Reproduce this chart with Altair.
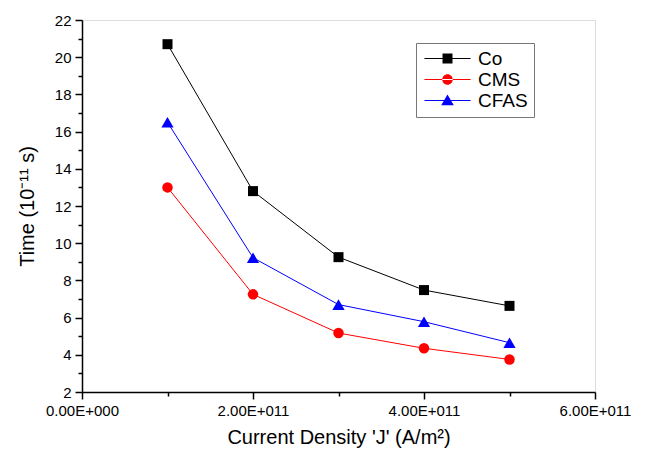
import altair as alt
import pandas as pd

current_density = [1e11, 2e11, 3e11, 4e11, 5e11]
co = [20.7, 12.8, 9.25, 7.48, 6.63]
cms = [13.0, 7.25, 5.17, 4.35, 3.75]
cfas = [16.5, 9.22, 6.7, 5.78, 4.65]
series_names = ["Co", "CMS", "CFAS"]
series_colors = ["#000000", "#ff0000", "#0000ff"]
series_shapes = ["square", "circle", "triangle-up"]
series_sizes = [100, 110, 150]

x_ticks = [0, 1e11, 2e11, 3e11, 4e11, 5e11, 6e11]
y_ticks = list(range(2, 23))

# legend glyphs: a short line with the marker in the middle
LINE = "M-4.4,-0.1H4.4V0.1H-4.4Z "
legend_shapes = [
    LINE + "M-0.95,-0.95H0.95V0.95H-0.95Z",
    LINE + "M-1,0A1,1 0 1,0 1,0A1,1 0 1,0 -1,0Z",
    LINE + "M0,-1.15L1.2,0.9H-1.2Z",
]

rows = []
for name, vals in zip(series_names, [co, cms, cfas]):
    for xv, yv in zip(current_density, vals):
        rows.append({"J": xv, "Time": yv, "Series": name})
df = pd.DataFrame(rows)

FONT = "Liberation Sans"

x_enc = alt.X(
    "J:Q",
    scale=alt.Scale(domain=[0, 6e11], nice=False, zero=False),
    axis=alt.Axis(
        values=x_ticks,
        title="Current Density 'J' (A/m²)",
        labelExpr="datum.value % 2e11 != 0 ? '' : (datum.value == 0 ? '0.00E+000' : format(datum.value/1e11, '.2f') + 'E+011')",
        tickSize={"condition": {"test": "datum.value % 2e11 != 0", "value": 4}, "value": 7},
        grid=False,
        labelFont=FONT, labelFontSize=15, labelColor="black", labelPadding=4,
        titleFont=FONT, titleFontSize=20, titleFontWeight="normal", titleColor="black", titlePadding=9,
        domainColor="black", tickColor="black", domainWidth=1.5, tickWidth=1.5,
        labelFlush=False, labelOverlap=False,
    ),
)
y_enc = alt.Y(
    "Time:Q",
    scale=alt.Scale(domain=[2, 22], nice=False, zero=False),
    axis=alt.Axis(
        values=y_ticks,
        title="Time (10⁻¹¹ s)",
        labelExpr="datum.value % 2 != 0 ? '' : datum.label",
        tickSize={"condition": {"test": "datum.value % 2 != 0", "value": 4}, "value": 7},
        grid=False,
        labelFont=FONT, labelFontSize=15, labelColor="black", labelPadding=4,
        titleFont=FONT, titleFontSize=20, titleFontWeight="normal", titleColor="black", titlePadding=17,
        domainColor="black", tickColor="black", domainWidth=1.5, tickWidth=1.5,
        labelOverlap=False,
    ),
)

legend = alt.Legend(
    title=None, orient="none", legendX=334, legendY=23,
    fillColor="white", strokeColor="#777777", padding=6,
    labelFont=FONT, labelFontSize=19, labelColor="black",
    symbolSize=110, symbolStrokeWidth=0, symbolOpacity=1, rowPadding=1,
    symbolOffset=16, labelOffset=21,
)

layers = []
for name, color, shape, size in zip(series_names, series_colors, series_shapes, series_sizes):
    base = alt.Chart(df).transform_filter(alt.datum.Series == name)
    layers.append(base.mark_line(strokeWidth=1, color=color).encode(x=x_enc, y=y_enc))
for name, color, shape, size in zip(series_names, series_colors, series_shapes, series_sizes):
    base = alt.Chart(df).transform_filter(alt.datum.Series == name)
    layers.append(base.mark_point(filled=True, opacity=1, color=color, shape=shape, size=size).encode(x=x_enc, y=y_enc))

# invisible layer that only supplies the legend
legend_layer = alt.Chart(df).mark_point(filled=True, opacity=0).encode(
    x=x_enc, y=y_enc,
    color=alt.Color("Series:N", scale=alt.Scale(domain=series_names, range=series_colors), legend=legend),
    shape=alt.Shape("Series:N", scale=alt.Scale(domain=series_names, range=legend_shapes), legend=legend),
)
layers.append(legend_layer)

chart = alt.layer(*layers).properties(
    width=513, height=372,
    autosize=alt.AutoSizeParams(type="none"),
    padding={"left": 82, "top": 20, "right": 52, "bottom": 60},
).configure_view(stroke=None).configure(background="white")

chart.save("out.html", embed_options={"renderer": "svg", "actions": False})
